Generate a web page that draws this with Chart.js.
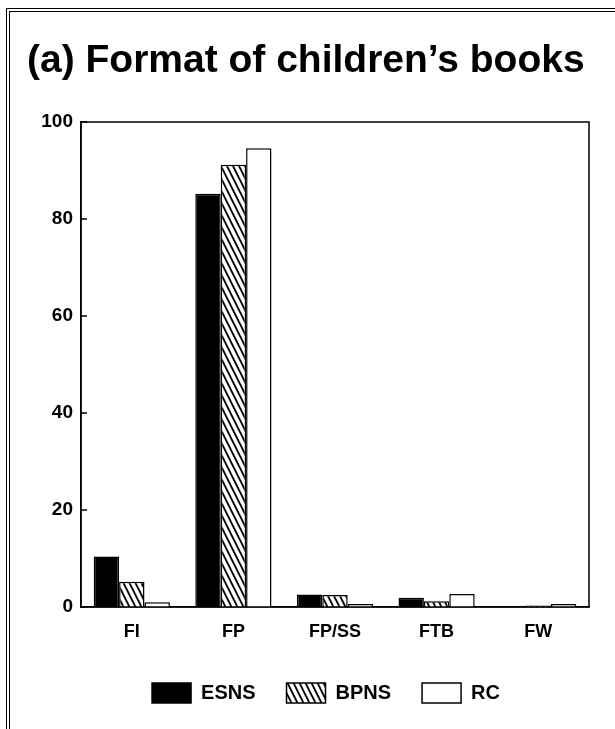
<!DOCTYPE html>
<html>
<head>
<meta charset="utf-8">
<script src="https://cdn.jsdelivr.net/npm/chart.js@4/dist/chart.umd.min.js"></script>
<style>
  html, body { margin: 0; padding: 0; background: #fff; }
  #wrap { position: relative; width: 615px; height: 729px; }
  #frame {
    position: absolute; left: 6px; top: 8px; right: 0; bottom: 0;
    border-top: 4px double #000; border-left: 4px double #000;
    pointer-events: none;
  }
  canvas { display: block; }
</style>
</head>
<body>
<div id="wrap">
  <canvas id="chart" width="615" height="729"></canvas>
  <div id="frame"></div>
</div>
<script>
// Book format categories and the share (%) of books in each, per source
const categories = ['FI', 'FP', 'FP/SS', 'FTB', 'FW'];
const esns = [10.4, 85.2, 2.6, 1.9, 0.15];
const bpns = [5.2, 91.2, 2.5, 1.2, 0.3];
const rc   = [1.0, 94.6, 0.6, 2.7, 0.6];
const seriesNames = ['ESNS', 'BPNS', 'RC'];
const yTicks = [0, 20, 40, 60, 80, 100];

// Back-slash hatching used for the BPNS bars
function makeHatch() {
  const w = 6, h = 12;
  const c = document.createElement('canvas');
  c.width = w; c.height = h;
  const g = c.getContext('2d');
  g.fillStyle = '#fff';
  g.fillRect(0, 0, w, h);
  g.strokeStyle = '#000';
  g.lineWidth = 1.9;
  for (let n = -1; n <= 1; n++) {
    g.beginPath();
    g.moveTo(-w, -h - n * h);
    g.lineTo(2 * w, 2 * h - n * h);
    g.stroke();
  }
  const ctx = document.getElementById('chart').getContext('2d');
  return ctx.createPattern(c, 'repeat');
}

const hatch = makeHatch();
const FONT = "'Liberation Sans', Arial, Helvetica, sans-serif";

// Closed plot frame plus short inward tick marks on the value axis
const frameAndTicks = {
  id: 'frameAndTicks',
  afterDatasetsDraw(chart) {
    const { ctx, chartArea: a, scales: { y } } = chart;
    ctx.save();
    ctx.strokeStyle = '#000';
    ctx.lineWidth = 1.5;
    ctx.strokeRect(a.left, a.top, a.right - a.left, a.bottom - a.top);
    y.ticks.forEach(t => {
      const py = y.getPixelForValue(t.value);
      ctx.beginPath();
      ctx.moveTo(a.left, py);
      ctx.lineTo(a.left + 6, py);
      ctx.stroke();
    });
    ctx.restore();
  }
};

// Legend sits a little right of the page centre
const legendShift = {
  id: 'legendShift',
  afterLayout(chart) {
    const lg = chart.legend;
    if (lg) { lg.left += 18; lg.right += 18; }
  }
};

new Chart(document.getElementById('chart'), {
  type: 'bar',
  data: {
    labels: categories,
    datasets: [
      { label: seriesNames[0], data: esns, backgroundColor: '#000', borderColor: '#000', borderWidth: 1.5 },
      { label: seriesNames[1], data: bpns, backgroundColor: hatch, borderColor: '#000', borderWidth: 1.5 },
      { label: seriesNames[2], data: rc, backgroundColor: '#fff', borderColor: '#000', borderWidth: 1.5 }
    ]
  },
  options: {
    responsive: false,
    animation: false,
    devicePixelRatio: 1,
    layout: { padding: { left: 27, right: 26, top: 0, bottom: 16 } },
    datasets: { bar: { categoryPercentage: 0.75, barPercentage: 1.0 } },
    plugins: {
      title: {
        display: true,
        text: '(a) Format of children\u2019s books',
        align: 'start',
        color: '#000',
        font: { family: FONT, size: 39, weight: 'bold', lineHeight: 1.2 },
        padding: { top: 38, bottom: 37.2 }
      },
      legend: {
        position: 'bottom',
        labels: {
          color: '#000',
          boxWidth: 39,
          boxHeight: 20,
          padding: 31,
          font: { family: FONT, size: 20, weight: 'bold' }
        }
      },
      tooltip: { enabled: false }
    },
    scales: {
      x: {
        grid: { display: false },
        border: { display: true, color: '#000', width: 1.5 },
        ticks: { color: '#000', padding: 6, font: { family: FONT, size: 18, weight: 'bold' } },
        afterFit(scale) { scale.height = 45; }
      },
      y: {
        min: 0,
        max: 100,
        afterBuildTicks(scale) { scale.ticks = yTicks.map(v => ({ value: v })); },
        grid: { display: false, drawTicks: false },
        border: { display: true, color: '#000', width: 1.5 },
        ticks: { color: '#000', padding: 8, font: { family: FONT, size: 19, weight: 'bold' } },
        afterFit(scale) { scale.width = 54; }
      }
    }
  },
  plugins: [frameAndTicks, legendShift]
});
</script>
</body>
</html>
